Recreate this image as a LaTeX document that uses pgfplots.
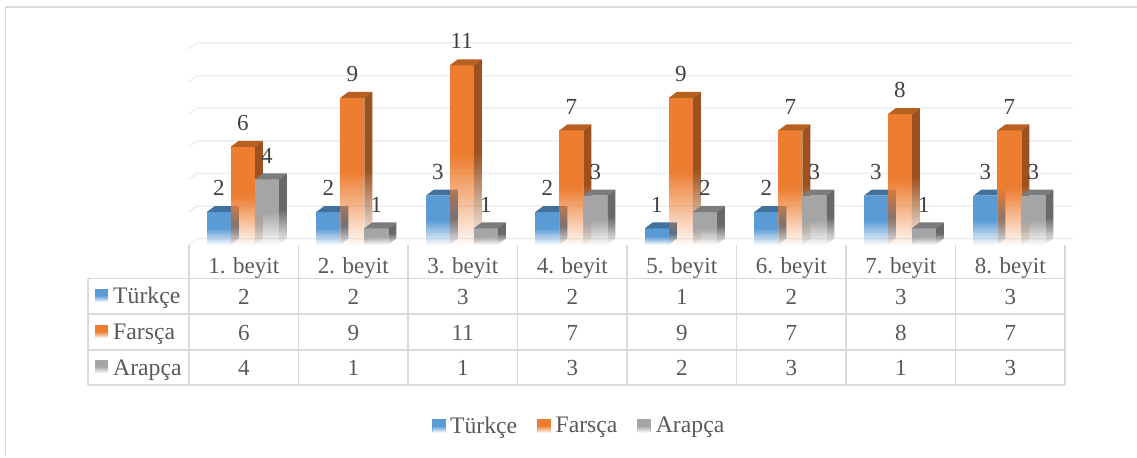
\documentclass[border=0pt]{standalone}
\usepackage{pgfplots}
\pgfplotsset{compat=1.18}
\usepackage{fontspec}
\setmainfont{Liberation Serif}
\usetikzlibrary{fadings}
\pgfdeclareverticalshading{barfadeshade}{100bp}{color(0bp)=(transparent!98); color(25bp)=(transparent!96); color(50bp)=(transparent!0); color(100bp)=(transparent!0)}
\pgfdeclarefading{barfade}{\pgfuseshading{barfadeshade}}
\definecolor{cB}{HTML}{5B9BD5}\definecolor{cBt}{HTML}{41719C}\definecolor{cBs}{HTML}{3D6C97}
\definecolor{cO}{HTML}{ED7D31}\definecolor{cOt}{HTML}{B85F22}\definecolor{cOs}{HTML}{9C511E}
\definecolor{cG}{HTML}{A5A5A5}\definecolor{cGt}{HTML}{7C7C7C}\definecolor{cGs}{HTML}{696969}
\definecolor{txt}{HTML}{595959}\definecolor{lab}{HTML}{404040}
\definecolor{tline}{HTML}{D9D9D9}\definecolor{gline}{HTML}{EFEFEF}
\newcommand{\fs}{\fontsize{23bp}{27bp}\selectfont}
\newcommand{\fl}{\fontsize{23.7bp}{27bp}\selectfont}
% bar width, depth in x units, depth in y units
\def\bw{0.2192}\def\dx{0.0731}\def\dy{0.368}
% #1 left edge of front face, #2 value, #3 front #4 top #5 side
\newcommand{\solidbar}[5]{%
  \addplot[forget plot,draw=none,fill=#5,path fading=barfade] coordinates {(#1+\bw,0) (#1+\bw+\dx,\dy) (#1+\bw+\dx,#2+\dy) (#1+\bw,#2)} --cycle;
  \addplot[forget plot,draw=none,fill=#3,path fading=barfade] coordinates {(#1,0) (#1+\bw,0) (#1+\bw,#2) (#1,#2)} --cycle;
  \addplot[forget plot,draw=none,fill=#4] coordinates {(#1,#2) (#1+\bw,#2) (#1+\bw+\dx,#2+\dy) (#1+\dx,#2+\dy)} --cycle;
}
% one cluster: #1 category position, #2 #3 #4 values
\newcommand{\cluster}[4]{%
  \solidbar{#1-0.3378}{#2}{cB}{cBt}{cBs}
  \solidbar{#1-0.1186}{#3}{cO}{cOt}{cOs}
  \solidbar{#1+0.1006}{#4}{cG}{cGt}{cGs}
  \node[lab,anchor=base,inner sep=0pt] at (axis cs:#1-0.2282,#2+1.0) {\fs #2};
  \node[lab,anchor=base,inner sep=0pt] at (axis cs:#1-0.009,#3+1.0) {\fs #3};
  \node[lab,anchor=base,inner sep=0pt] at (axis cs:#1+0.2102,#4+1.0) {\fs #4};
}
\newcommand{\swatch}[2]{\fill[#1,path fading=barfade] (axis cs:{px(95)},{py(#2-6.5)}) rectangle (axis cs:{px(108)},{py(#2+6.5)});}
\begin{document}
\begin{tikzpicture}[declare function={px(\x)=(\x-243.75)/109.5; py(\y)=(244.6-\y)/16.3;}]
\begin{axis}[
  scale only axis,width=1137bp,height=457bp,
  xmin=-2.2260,xmax=8.1575,ymin=-13.0307,ymax=15.0061,
  axis lines=none,clip=false,
  font=\fl,
  legend style={at={(axis cs:3.0525,-11.12)},anchor=center,draw=none,fill=none,
    legend columns=3,inner sep=0pt,outer sep=0pt,
    /tikz/column 1/.style={column sep=5bp},
    /tikz/column 2/.style={column sep=20bp},
    /tikz/column 3/.style={column sep=5bp},
    /tikz/column 4/.style={column sep=20bp},
    /tikz/column 5/.style={column sep=5bp},
    nodes={text=txt,font=\fl,inner sep=0pt}},
  legend cell align=left,
]
\path[use as bounding box] (rel axis cs:0,0) rectangle (rel axis cs:1,1);
% frame
\draw[tline,line width=1.4bp] (axis cs:{px(5.5)},{py(457)}) -- (axis cs:{px(5.5)},{py(7)}) -- (axis cs:{px(1137)},{py(7)});
% grid on the back wall
\pgfplotsinvokeforeach{0,2,4,6,8,10,12}{
  \addplot[forget plot,gline,line width=1.5bp] coordinates {(-0.5,#1) (-0.427,#1+\dy) (7.574,#1+\dy)};
}
% table
\pgfplotsinvokeforeach{0,...,8}{
  \draw[tline,line width=1.5bp] (axis cs:{-0.5+#1},{py(245)}) -- (axis cs:{-0.5+#1},{py(385)});
}
\pgfplotsinvokeforeach{278.5,314,350,385}{
  \draw[tline,line width=1.5bp] (axis cs:{px(88)},{py(#1)}) -- (axis cs:7.5,{py(#1)});
}
\draw[tline,line width=1.5bp] (axis cs:{px(88)},{py(278.5)}) -- (axis cs:{px(88)},{py(385)});
% bars
\cluster{0}{2}{6}{4}
\cluster{1}{2}{9}{1}
\cluster{2}{3}{11}{1}
\cluster{3}{2}{7}{3}
\cluster{4}{1}{9}{2}
\cluster{5}{2}{7}{3}
\cluster{6}{3}{8}{1}
\cluster{7}{3}{7}{3}
% data table text
\newcommand{\tabcol}[5]{
  \node[txt,anchor=base,inner sep=0pt] at (axis cs:#1,{py(273.5)}) {\fs #2. beyit};
  \node[txt,anchor=base,inner sep=0pt] at (axis cs:#1,{py(304)}) {\fs #3};
  \node[txt,anchor=base,inner sep=0pt] at (axis cs:#1,{py(340)}) {\fs #4};
  \node[txt,anchor=base,inner sep=0pt] at (axis cs:#1,{py(375)}) {\fs #5};
}
\tabcol{0}{1}{2}{6}{4}
\tabcol{1}{2}{2}{9}{1}
\tabcol{2}{3}{3}{11}{1}
\tabcol{3}{4}{2}{7}{3}
\tabcol{4}{5}{1}{9}{2}
\tabcol{5}{6}{2}{7}{3}
\tabcol{6}{7}{3}{8}{1}
\tabcol{7}{8}{3}{7}{3}
\swatch{cB}{295.5}\swatch{cO}{331.5}\swatch{cG}{366.5}
\node[txt,anchor=base west,inner sep=0pt] at (axis cs:{px(113)},{py(303)}) {\fl Türkçe};
\node[txt,anchor=base west,inner sep=0pt] at (axis cs:{px(113)},{py(339)}) {\fl Farsça};
\node[txt,anchor=base west,inner sep=0pt] at (axis cs:{px(113)},{py(375)}) {\fl Arapça};
% legend
\addlegendimage{legend image code/.code={\fill[cB,path fading=barfade] (0bp,-6.5bp) rectangle (13bp,6.5bp);}}
\addlegendentry{Türkçe}
\addlegendimage{legend image code/.code={\fill[cO,path fading=barfade] (0bp,-6.5bp) rectangle (13bp,6.5bp);}}
\addlegendentry{Farsça}
\addlegendimage{legend image code/.code={\fill[cG,path fading=barfade] (0bp,-6.5bp) rectangle (13bp,6.5bp);}}
\addlegendentry{Arapça}
\end{axis}
\end{tikzpicture}
\end{document}
